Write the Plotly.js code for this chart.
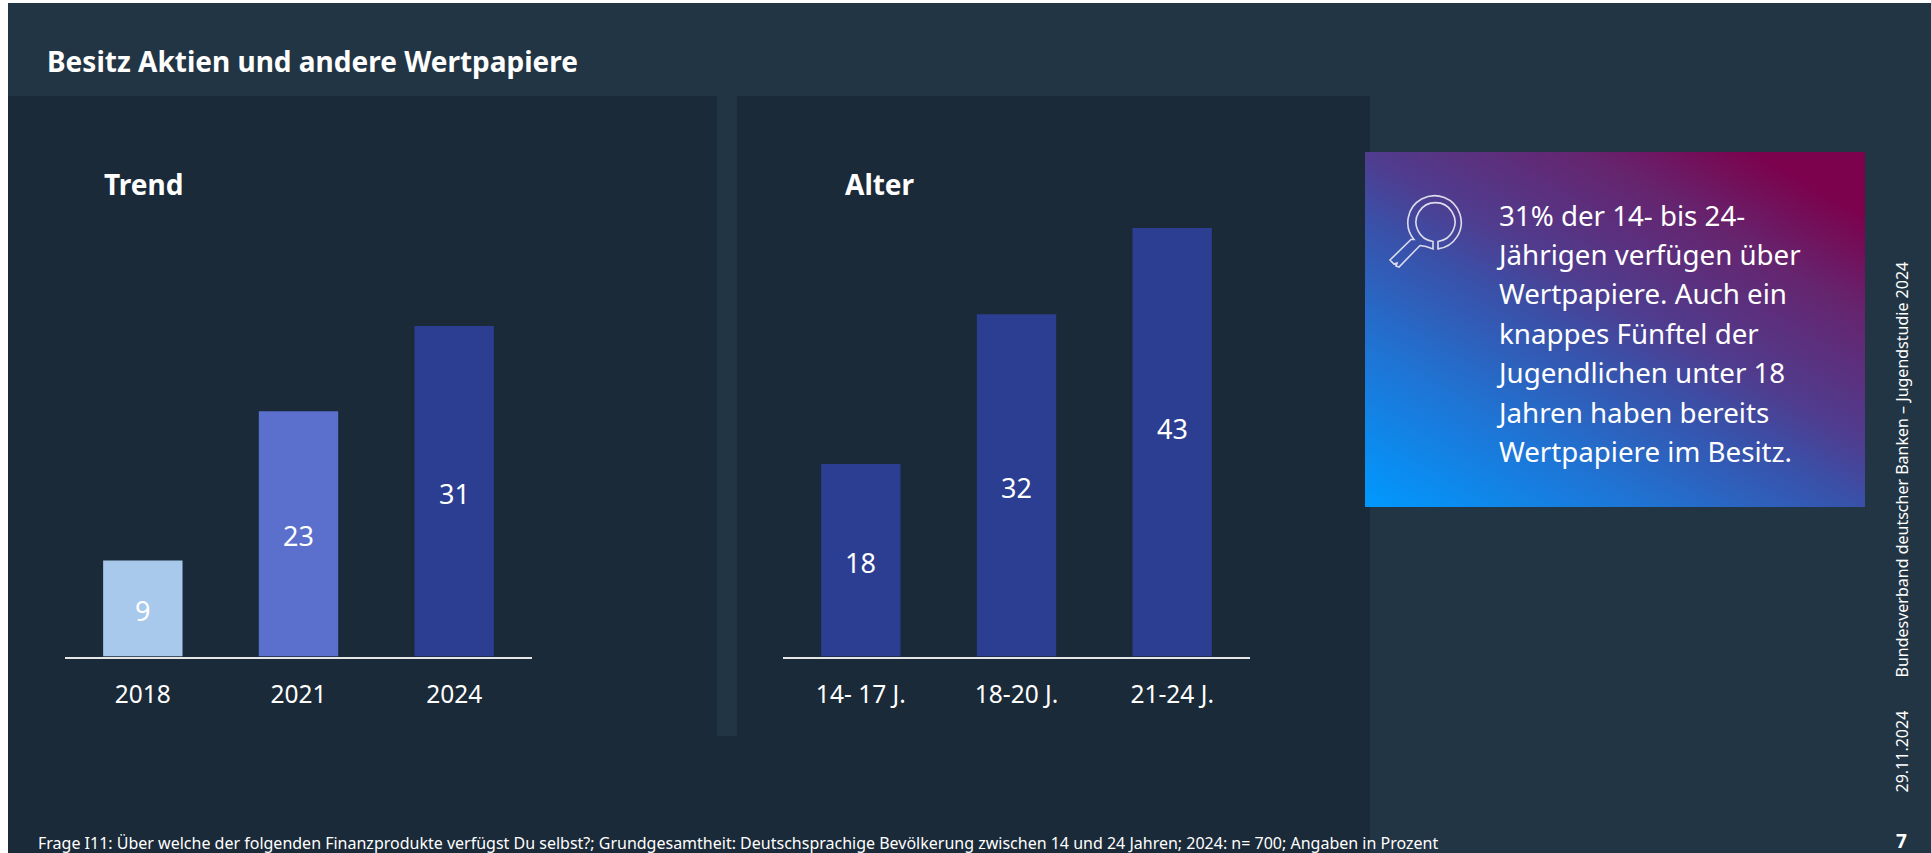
<!DOCTYPE html>
<html lang="de">
<head>
<meta charset="utf-8">
<script src="https://cdn.plot.ly/plotly-3.0.1.min.js"></script>
<style>
html,body{margin:0;padding:0;background:#fff;width:1931px;height:853px;overflow:hidden}
.b{position:absolute}
#page{left:8px;top:3px;width:1923px;height:850px;background:#223544}
#p1{left:8px;top:96px;width:709px;height:757px;background:#1b2a38}
#p2{left:737px;top:96px;width:633px;height:757px;background:#1b2a38}
#p3{left:717px;top:736px;width:20px;height:117px;background:#1b2a38}
#box{left:1365px;top:152px;width:500px;height:355px;
 background:linear-gradient(30deg,#0099ff 0%,#1f74d4 25%,#3a50a8 45%,#503c8e 55%,#66246e 75%,#7c024d 90%,#7c024d 100%)}
#icon{left:0;top:0}
#chart{position:absolute;left:0;top:0;width:1931px;height:853px}
</style>
</head>
<body>
<div class="b" id="page"></div><div class="b" id="p1"></div><div class="b" id="p2"></div><div class="b" id="p3"></div><div class="b" id="box"></div>
<svg class="b" id="icon" width="1931" height="853"><path d="M1438 241.5A19.5 19.5 0 1 0 1433 241.5L1433 248.9L1426 246.5L1420 245.5L1399 267L1396 266L1397 263L1394 264L1390 260L1411 239.5L1414 239.5A26.7 26.7 0 1 1 1438 248.9Z" fill="none" stroke="#dcdcec" stroke-width="1.6"/></svg>
<div id="chart"></div>
<script>
const W = 1931, H = 853;
const trendCategories = ['2018', '2021', '2024'];
const trendValues = [9, 23, 31];
const trendColors = ['#a8c9ec', '#5b70cc', '#2b3e91'];
const ageCategories = ['14- 17 J.', '18-20 J.', '21-24 J.'];
const ageValues = [18, 32, 43];
const ageColors = ['#2b3e91', '#2b3e91', '#2b3e91'];
const trendYMax = 40.2;
const ageYMax = 40.05;
const mainTitle = 'Besitz Aktien und andere Wertpapiere';
const panelTitles = ['Trend', 'Alter'];
const calloutLines = ['31% der 14- bis 24-', 'Jährigen verfügen über', 'Wertpapiere. Auch ein', 'knappes Fünftel der', 'Jugendlichen unter 18', 'Jahren haben bereits', 'Wertpapiere im Besitz.'];
const footnote = 'Frage I11: Über welche der folgenden Finanzprodukte verfügst Du selbst?; Grundgesamtheit: Deutschsprachige Bevölkerung zwischen 14 und 24 Jahren; 2024: n= 700; Angaben in Prozent';
const sideText = 'Bundesverband deutscher Banken – Jugendstudie 2024';
const dateText = '29.11.2024';
const pageNumber = '7';

const FONT = '"Noto Sans", "Open Sans", sans-serif';
const px = x => x / W, py = y => 1 - y / H;

function barTrace(cats, vals, cols, xa, ya) {
  return {type: 'bar', x: cats, y: vals, xaxis: xa, yaxis: ya, marker: {color: cols, line: {width: 0}},
    hoverinfo: 'x+y', cliponaxis: true, showlegend: false};
}
function note(text, x, y, size, opts) {
  return Object.assign({text, x: px(x), y: py(y), xref: 'paper', yref: 'paper', showarrow: false,
    xanchor: 'left', yanchor: 'middle', borderpad: 0,
    font: {family: FONT, size, color: '#ffffff'}}, opts || {});
}
function valueNotes(vals, xref, yref) {
  return vals.map((v, i) => ({text: String(v), x: i, y: v / 2, xref, yref, showarrow: false,
    yshift: -2, font: {family: FONT, size: 27, color: '#ffffff'}}));
}
function xAxis(l, r) {
  return {domain: [px(l), px(r)], type: 'category', range: [-0.5, 2.5], showline: true, linecolor: '#e6e6e6', linewidth: 1.5,
    showgrid: false, zeroline: false, ticks: '', ticklabelstandoff: 15, automargin: false,
    tickfont: {family: FONT, size: 24.5, color: '#ffffff'}, fixedrange: true};
}
function yAxis(anchor, top) {
  return {domain: [py(656.5), py(228)], range: [0, top], visible: false, anchor, fixedrange: true};
}
const annotations = [
  ...valueNotes(trendValues, 'x', 'y'),
  ...valueNotes(ageValues, 'x2', 'y2'),
  note('<b>' + mainTitle + '</b>', 46, 61, 28),
  note('<b>' + panelTitles[0] + '</b>', 103, 184, 28),
  note('<b>' + panelTitles[1] + '</b>', 844, 184, 28),
  ...calloutLines.map((t, i) => note(t, /^J/.test(t) ? 1495 : 1498, [215, 254, 293, 333, 372, 412, 451][i], 27.7)),
  note(footnote, 37, 843, 16),
  note(sideText, 1901.5, 470, 16, {textangle: -90, xanchor: 'center'}),
  note(dateText, 1901.5, 752, 16, {textangle: -90, xanchor: 'center'}),
  note('<b>' + pageNumber + '</b>', 1901, 841, 19, {xanchor: 'center'})
];
const layout = {
  width: W, height: H, margin: {l: 0, r: 0, t: 0, b: 0}, autosize: false,
  paper_bgcolor: 'rgba(0,0,0,0)', plot_bgcolor: 'rgba(0,0,0,0)',
  bargap: 0.49, showlegend: false,
  xaxis: xAxis(65, 532), yaxis: yAxis('x', trendYMax),
  xaxis2: xAxis(783, 1250), yaxis2: yAxis('x2', ageYMax),
  annotations
};
Plotly.newPlot('chart', [
  barTrace(trendCategories, trendValues, trendColors, 'x', 'y'),
  barTrace(ageCategories, ageValues, ageColors, 'x2', 'y2')
], layout, {displayModeBar: false, responsive: false});
</script>
</body>
</html>
